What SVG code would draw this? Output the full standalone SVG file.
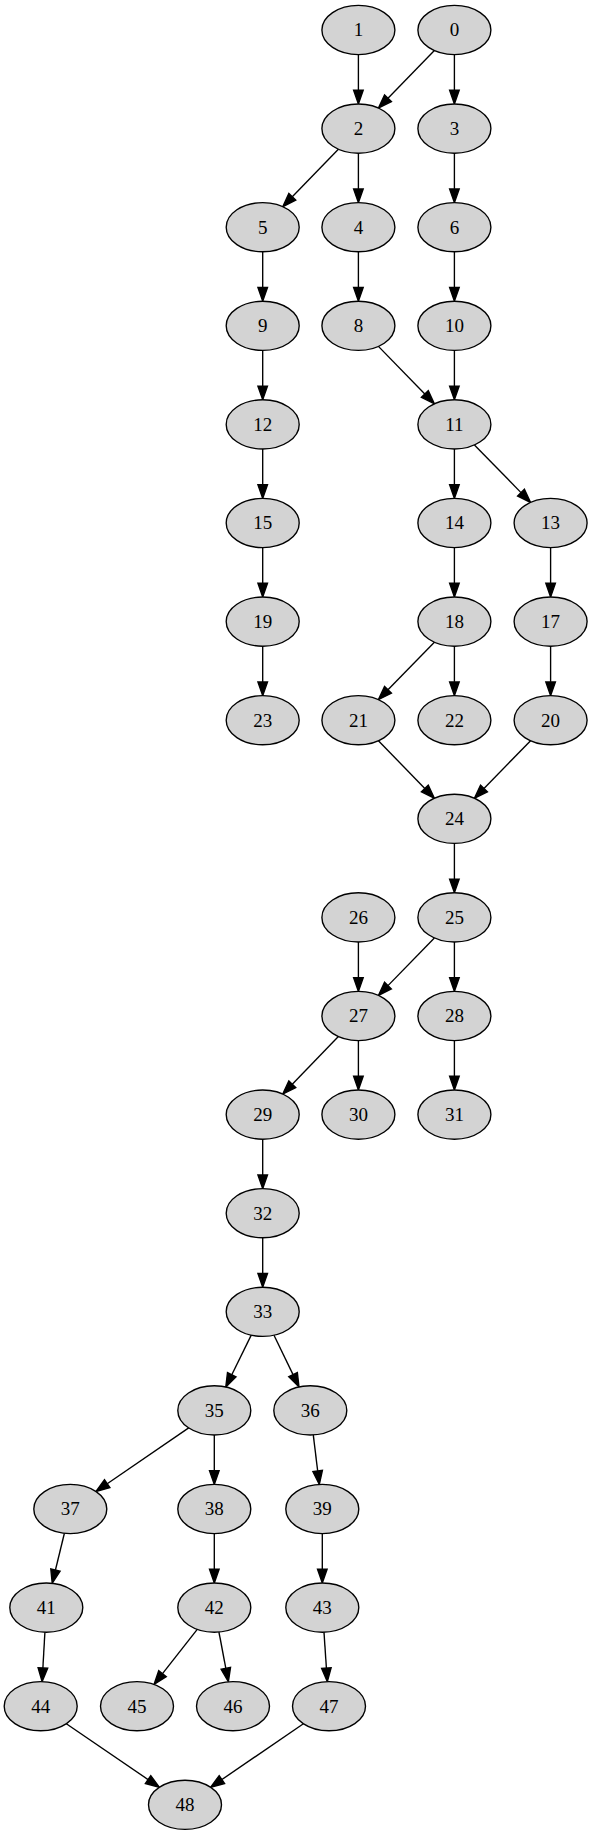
<svg xmlns="http://www.w3.org/2000/svg" width="592" height="1837" viewBox="0 0 592 1837">
<style>
.n ellipse{fill:#d3d3d3;stroke:#000;stroke-width:1.37}
.n text{font-family:"Liberation Serif","Times New Roman",serif;font-size:19px;text-anchor:middle;fill:#000}
.e path{fill:none;stroke:#000;stroke-width:1.37;marker-end:url(#ah)}
</style>
<defs>
<marker id="ah" markerUnits="userSpaceOnUse" viewBox="-2 -7 18 14" markerWidth="18" markerHeight="14" refX="0" refY="0" orient="auto">
<path d="M0,-4.8 L13.7,0 L0,4.8 Z" fill="#000" stroke="#000" stroke-width="1.37"/>
</marker>
</defs>
<rect width="592" height="1837" fill="#fff"/>
<g id="edges" class="e">
<path d="M358.4,54.6 L358.4,90.3"/>
<path d="M454.4,54.6 L454.4,90.3"/>
<path d="M434.37,50.57 L387.99,98.21"/>
<path d="M338.37,149.17 L292.29,196.81"/>
<path d="M358.4,153.2 L358.4,188.9"/>
<path d="M454.4,153.2 L454.4,188.9"/>
<path d="M262.7,251.8 L262.7,287.5"/>
<path d="M358.4,251.8 L358.4,287.5"/>
<path d="M454.4,251.8 L454.4,287.5"/>
<path d="M262.7,350.4 L262.7,386.1"/>
<path d="M378.43,346.37 L424.81,394.01"/>
<path d="M454.4,350.4 L454.4,386.1"/>
<path d="M262.7,449 L262.7,484.7"/>
<path d="M454.4,449 L454.4,484.7"/>
<path d="M474.43,444.97 L521.01,492.61"/>
<path d="M262.7,547.6 L262.7,583.3"/>
<path d="M454.4,547.6 L454.4,583.3"/>
<path d="M550.6,547.6 L550.6,583.3"/>
<path d="M262.7,646.2 L262.7,681.9"/>
<path d="M434.37,642.17 L387.99,689.81"/>
<path d="M454.4,646.2 L454.4,681.9"/>
<path d="M550.6,646.2 L550.6,681.9"/>
<path d="M378.43,740.77 L424.81,788.41"/>
<path d="M530.57,740.77 L483.99,788.41"/>
<path d="M454.4,843.4 L454.4,879.1"/>
<path d="M434.37,937.97 L387.99,985.61"/>
<path d="M358.4,942 L358.4,977.7"/>
<path d="M454.4,942 L454.4,977.7"/>
<path d="M338.37,1036.57 L292.29,1084.21"/>
<path d="M358.4,1040.6 L358.4,1076.3"/>
<path d="M454.4,1040.6 L454.4,1076.3"/>
<path d="M262.7,1139.2 L262.7,1174.9"/>
<path d="M262.7,1237.8 L262.7,1273.5"/>
<path d="M251.24,1335.16 L231.8,1374.74"/>
<path d="M273.99,1335.19 L293.05,1374.67"/>
<path d="M188.7,1427.93 L107.2,1483.73"/>
<path d="M214.3,1435 L214.3,1470.7"/>
<path d="M313.28,1434.92 L317.66,1470.88"/>
<path d="M64.39,1533.28 L55.45,1570.01"/>
<path d="M214.3,1533.6 L214.3,1569.3"/>
<path d="M322.3,1533.6 L322.3,1569.3"/>
<path d="M44.9,1632.18 L42.88,1667.94"/>
<path d="M197.25,1629.35 L162.5,1673.67"/>
<path d="M218.93,1632 L225.82,1668.34"/>
<path d="M323.97,1632.17 L326.4,1667.96"/>
<path d="M66.33,1723.71 L148.06,1779.56"/>
<path d="M303.4,1723.73 L221.9,1779.53"/>
</g>
<g id="node1" class="n"><ellipse cx="358.4" cy="30" rx="36.5" ry="24.6"/><text x="358.4" y="36.4">1</text></g>
<g id="node0" class="n"><ellipse cx="454.4" cy="30" rx="36.5" ry="24.6"/><text x="454.4" y="36.4">0</text></g>
<g id="node2" class="n"><ellipse cx="358.4" cy="128.6" rx="36.5" ry="24.6"/><text x="358.4" y="135">2</text></g>
<g id="node3" class="n"><ellipse cx="454.4" cy="128.6" rx="36.5" ry="24.6"/><text x="454.4" y="135">3</text></g>
<g id="node5" class="n"><ellipse cx="262.7" cy="227.2" rx="36.5" ry="24.6"/><text x="262.7" y="233.6">5</text></g>
<g id="node4" class="n"><ellipse cx="358.4" cy="227.2" rx="36.5" ry="24.6"/><text x="358.4" y="233.6">4</text></g>
<g id="node6" class="n"><ellipse cx="454.4" cy="227.2" rx="36.5" ry="24.6"/><text x="454.4" y="233.6">6</text></g>
<g id="node9" class="n"><ellipse cx="262.7" cy="325.8" rx="36.5" ry="24.6"/><text x="262.7" y="332.2">9</text></g>
<g id="node8" class="n"><ellipse cx="358.4" cy="325.8" rx="36.5" ry="24.6"/><text x="358.4" y="332.2">8</text></g>
<g id="node10" class="n"><ellipse cx="454.4" cy="325.8" rx="36.5" ry="24.6"/><text x="454.4" y="332.2">10</text></g>
<g id="node12" class="n"><ellipse cx="262.7" cy="424.4" rx="36.5" ry="24.6"/><text x="262.7" y="430.8">12</text></g>
<g id="node11" class="n"><ellipse cx="454.4" cy="424.4" rx="36.5" ry="24.6"/><text x="454.4" y="430.8">11</text></g>
<g id="node15" class="n"><ellipse cx="262.7" cy="523" rx="36.5" ry="24.6"/><text x="262.7" y="529.4">15</text></g>
<g id="node14" class="n"><ellipse cx="454.4" cy="523" rx="36.5" ry="24.6"/><text x="454.4" y="529.4">14</text></g>
<g id="node13" class="n"><ellipse cx="550.6" cy="523" rx="36.5" ry="24.6"/><text x="550.6" y="529.4">13</text></g>
<g id="node19" class="n"><ellipse cx="262.7" cy="621.6" rx="36.5" ry="24.6"/><text x="262.7" y="628">19</text></g>
<g id="node18" class="n"><ellipse cx="454.4" cy="621.6" rx="36.5" ry="24.6"/><text x="454.4" y="628">18</text></g>
<g id="node17" class="n"><ellipse cx="550.6" cy="621.6" rx="36.5" ry="24.6"/><text x="550.6" y="628">17</text></g>
<g id="node23" class="n"><ellipse cx="262.7" cy="720.2" rx="36.5" ry="24.6"/><text x="262.7" y="726.6">23</text></g>
<g id="node21" class="n"><ellipse cx="358.4" cy="720.2" rx="36.5" ry="24.6"/><text x="358.4" y="726.6">21</text></g>
<g id="node22" class="n"><ellipse cx="454.4" cy="720.2" rx="36.5" ry="24.6"/><text x="454.4" y="726.6">22</text></g>
<g id="node20" class="n"><ellipse cx="550.6" cy="720.2" rx="36.5" ry="24.6"/><text x="550.6" y="726.6">20</text></g>
<g id="node24" class="n"><ellipse cx="454.4" cy="818.8" rx="36.5" ry="24.6"/><text x="454.4" y="825.2">24</text></g>
<g id="node26" class="n"><ellipse cx="358.4" cy="917.4" rx="36.5" ry="24.6"/><text x="358.4" y="923.8">26</text></g>
<g id="node25" class="n"><ellipse cx="454.4" cy="917.4" rx="36.5" ry="24.6"/><text x="454.4" y="923.8">25</text></g>
<g id="node27" class="n"><ellipse cx="358.4" cy="1016" rx="36.5" ry="24.6"/><text x="358.4" y="1022.4">27</text></g>
<g id="node28" class="n"><ellipse cx="454.4" cy="1016" rx="36.5" ry="24.6"/><text x="454.4" y="1022.4">28</text></g>
<g id="node29" class="n"><ellipse cx="262.7" cy="1114.6" rx="36.5" ry="24.6"/><text x="262.7" y="1121">29</text></g>
<g id="node30" class="n"><ellipse cx="358.4" cy="1114.6" rx="36.5" ry="24.6"/><text x="358.4" y="1121">30</text></g>
<g id="node31" class="n"><ellipse cx="454.4" cy="1114.6" rx="36.5" ry="24.6"/><text x="454.4" y="1121">31</text></g>
<g id="node32" class="n"><ellipse cx="262.7" cy="1213.2" rx="36.5" ry="24.6"/><text x="262.7" y="1219.6">32</text></g>
<g id="node33" class="n"><ellipse cx="262.7" cy="1311.8" rx="36.5" ry="24.6"/><text x="262.7" y="1318.2">33</text></g>
<g id="node35" class="n"><ellipse cx="214.3" cy="1410.4" rx="36.5" ry="24.6"/><text x="214.3" y="1416.8">35</text></g>
<g id="node36" class="n"><ellipse cx="310.3" cy="1410.4" rx="36.5" ry="24.6"/><text x="310.3" y="1416.8">36</text></g>
<g id="node37" class="n"><ellipse cx="70.3" cy="1509" rx="36.5" ry="24.6"/><text x="70.3" y="1515.4">37</text></g>
<g id="node38" class="n"><ellipse cx="214.3" cy="1509" rx="36.5" ry="24.6"/><text x="214.3" y="1515.4">38</text></g>
<g id="node39" class="n"><ellipse cx="322.3" cy="1509" rx="36.5" ry="24.6"/><text x="322.3" y="1515.4">39</text></g>
<g id="node41" class="n"><ellipse cx="46.3" cy="1607.6" rx="36.5" ry="24.6"/><text x="46.3" y="1614">41</text></g>
<g id="node42" class="n"><ellipse cx="214.3" cy="1607.6" rx="36.5" ry="24.6"/><text x="214.3" y="1614">42</text></g>
<g id="node43" class="n"><ellipse cx="322.3" cy="1607.6" rx="36.5" ry="24.6"/><text x="322.3" y="1614">43</text></g>
<g id="node44" class="n"><ellipse cx="40.7" cy="1706.2" rx="36.5" ry="24.6"/><text x="40.7" y="1712.6">44</text></g>
<g id="node45" class="n"><ellipse cx="137" cy="1706.2" rx="36.5" ry="24.6"/><text x="137" y="1712.6">45</text></g>
<g id="node46" class="n"><ellipse cx="233" cy="1706.2" rx="36.5" ry="24.6"/><text x="233" y="1712.6">46</text></g>
<g id="node47" class="n"><ellipse cx="329" cy="1706.2" rx="36.5" ry="24.6"/><text x="329" y="1712.6">47</text></g>
<g id="node48" class="n"><ellipse cx="185" cy="1804.8" rx="36.5" ry="24.6"/><text x="185" y="1811.2">48</text></g>
</svg>
